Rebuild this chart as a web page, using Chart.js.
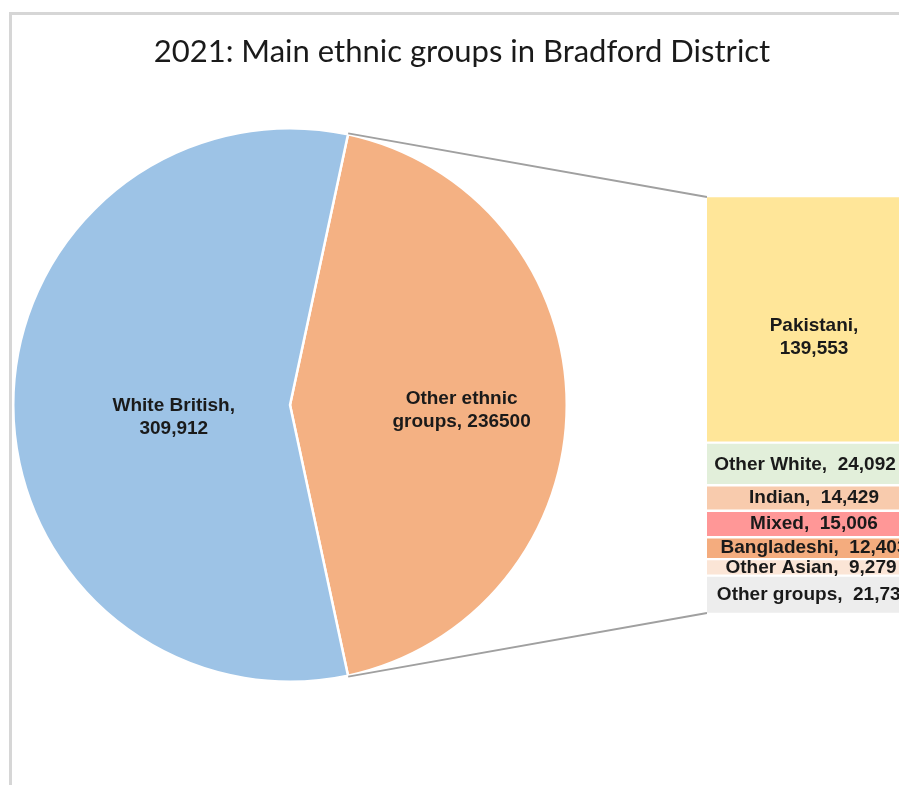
<!DOCTYPE html>
<html>
<head>
<meta charset="utf-8">
<script src="https://cdn.jsdelivr.net/npm/chart.js@4.4.1/dist/chart.umd.min.js"></script>
<style>
html, body { margin: 0; padding: 0; width: 899px; height: 785px; overflow: hidden; background: #fff; }
#frame { position: absolute; left: 9px; top: 12px; width: 1000px; height: 1000px; border: 3px solid #d6d6d6; box-sizing: border-box; }
#pieCanvas { position: absolute; left: 0; top: 0; }
#barCanvas { position: absolute; left: 707px; top: 196px; }
#title { position: absolute; left: 0; top: 31px; width: 924px; text-align: center; font-family: Lato, "Open Sans", sans-serif; font-size: 31px; color: #1a1a1a; }
</style>
</head>
<body>
<div id="frame"></div>
<canvas id="pieCanvas" width="899" height="785"></canvas>
<canvas id="barCanvas" width="214" height="418"></canvas>
<div id="title">2021: Main ethnic groups in Bradford District</div>
<script>
// pie: the two main groups
const pieLabels = ['Other ethnic groups', 'White British']
const pieValues = [236500, 309912]
const pieColors = ['#F4B183', '#9DC3E6']
const pieText = [['Other ethnic', 'groups, 236500'], ['White British,', '309,912']]

// bar: breakdown of other ethnic groups (top to bottom)
const barLabels = ['Pakistani', 'Other White', 'Indian', 'Mixed', 'Bangladeshi', 'Other Asian', 'Other groups']
const barValues = [139553, 24092, 14429, 15006, 12403, 9279, 21738]
const barColors = ['#FFE699', '#E2EFDA', '#F8CBAD', '#FF9797', '#F4AC7E', '#FBE5D6', '#EDEDED']

const labelFont = 'bold 19px "Liberation Sans", Arial, sans-serif'
const lineGap = 23

const fmt = (v) => v.toLocaleString('en-US')

const drawLines = (ctx, lines, cx, cy) => {
    ctx.save()
    ctx.font = labelFont
    ctx.fillStyle = '#1a1a1a'
    ctx.textAlign = 'center'
    ctx.textBaseline = 'middle'
    const startY = cy - (lines.length - 1) * lineGap / 2
    lines.forEach((line, i) => {
        ctx.fillText(line, cx, startY + i * lineGap)
    })
    ctx.restore()
}

//
// stacked bar
// ---------------------------------------------------------------------
const barTotal = barValues.reduce((a, b) => a + b, 0)
const barLabelDy = [18, 1, 0, 0, 0, 0, 0]
const barLabelDx = [0, -9, 0, 0, 0, -3, 0]

const barLabelPlugin = {
    id: 'barLabels',
    afterDatasetsDraw(chart) {
        chart.data.datasets.forEach((ds, i) => {
            const el = chart.getDatasetMeta(i).data[0]
            const cy = (el.y + el.base) / 2 + barLabelDy[i]
            const lines = i === 0 ? [barLabels[i] + ',', fmt(barValues[i])] : [barLabels[i] + ',  ' + fmt(barValues[i])]
            drawLines(chart.ctx, lines, el.x + barLabelDx[i], cy)
        })
    }
}

const barChart = new Chart(document.getElementById('barCanvas'), {
    type: 'bar',
    data: {
        labels: ['Other ethnic groups'],
        datasets: barLabels.map((name, i) => ({
            label: name,
            data: [barValues[i]],
            backgroundColor: barColors[i],
            borderColor: '#ffffff',
            borderWidth: { top: 1.5, bottom: 1.5, left: 0, right: 0 },
            borderSkipped: false,
            barPercentage: 1,
            categoryPercentage: 1,
        }))
    },
    options: {
        responsive: false,
        animation: false,
        layout: { padding: 0 },
        scales: {
            x: { display: false, stacked: true },
            y: { display: false, stacked: true, reverse: true, min: 0, max: barTotal }
        },
        plugins: { legend: { display: false }, tooltip: { enabled: false } }
    },
    plugins: [barLabelPlugin]
})

//
// pie with connector lines
// ---------------------------------------------------------------------
const pieTotal = pieValues.reduce((a, b) => a + b, 0)
const otherShare = pieValues[0] / pieTotal
const pieLabelPos = [{ frac: 0.62, dy: 5 }, { frac: 0.42, dy: 12 }]

const pieExtras = {
    id: 'pieExtras',
    afterDraw(chart) {
        const ctx = chart.ctx
        const arcs = chart.getDatasetMeta(0).data
        arcs.forEach((arc, i) => {
            const mid = (arc.startAngle + arc.endAngle) / 2
            const r = arc.outerRadius * pieLabelPos[i].frac
            drawLines(ctx, pieText[i], arc.x + r * Math.cos(mid), arc.y + r * Math.sin(mid) + pieLabelPos[i].dy)
        })

        // lines from the other slice to the bar
        const arc = arcs[0]
        const R = arc.outerRadius + 1
        const offX = barChart.canvas.offsetLeft
        const offY = barChart.canvas.offsetTop
        const topEl = barChart.getDatasetMeta(0).data[0]
        const botEl = barChart.getDatasetMeta(barLabels.length - 1).data[0]
        const barLeft = offX + topEl.x - topEl.width / 2
        const barTop = offY + Math.min(topEl.y, topEl.base) + 1
        const barBottom = offY + Math.max(botEl.y, botEl.base) - 1

        ctx.save()
        ctx.strokeStyle = '#A0A0A0'
        ctx.lineWidth = 1.8
        ctx.beginPath()
        ctx.moveTo(arc.x + R * Math.cos(arc.startAngle), arc.y + R * Math.sin(arc.startAngle))
        ctx.lineTo(barLeft, barTop)
        ctx.moveTo(arc.x + R * Math.cos(arc.endAngle), arc.y + R * Math.sin(arc.endAngle))
        ctx.lineTo(barLeft, barBottom)
        ctx.stroke()
        ctx.restore()
    }
}

new Chart(document.getElementById('pieCanvas'), {
    type: 'pie',
    data: {
        labels: pieLabels,
        datasets: [{
            data: pieValues,
            backgroundColor: pieColors,
            borderColor: '#ffffff',
            borderWidth: 2.5,
        }]
    },
    options: {
        responsive: false,
        animation: false,
        rotation: 90 - otherShare * 180,
        layout: { padding: { left: 12, top: 127, right: 331, bottom: 102 } },
        plugins: { legend: { display: false }, tooltip: { enabled: false } }
    },
    plugins: [pieExtras]
})
</script>
</body>
</html>
